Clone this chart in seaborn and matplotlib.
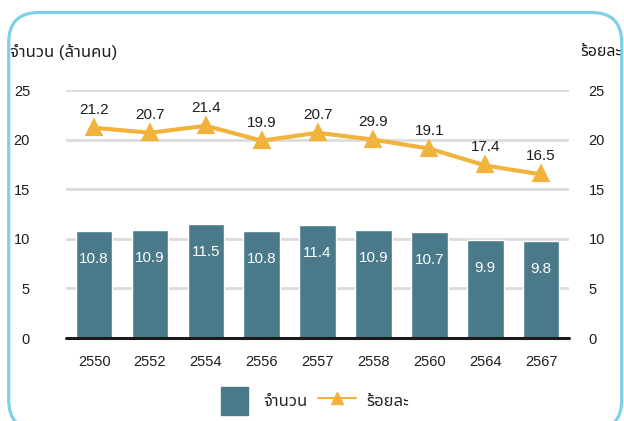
import matplotlib
matplotlib.use('Agg')
import matplotlib.pyplot as plt
import seaborn as sns
import pandas as pd
from matplotlib.patches import FancyBboxPatch, Patch, Rectangle
from matplotlib.lines import Line2D
from matplotlib.legend_handler import HandlerPatch

# data
years = ['2550', '2552', '2554', '2556', '2557', '2558', '2560', '2564', '2567']
people = [10.8, 10.9, 11.5, 10.8, 11.4, 10.9, 10.7, 9.9, 9.8]          # million
percent = [21.2, 20.7, 21.4, 19.9, 20.7, 20.0, 19.1, 17.4, 16.5]       # plotted position
percent_labels = ['21.2', '20.7', '21.4', '19.9', '20.7', '29.9', '19.1', '17.4', '16.5']

df = pd.DataFrame({'year': years, 'people': people, 'percent': percent})

sns.set_theme(style='white')
plt.rcParams['font.family'] = ['Liberation Sans', 'Noto Sans Thai', 'DejaVu Sans']

BAR = '#4a7a8a'
LINE = '#f2b33d'
GRID = '#dcdcdc'
TXT = '#1e1e1e'

fig = plt.figure(figsize=(6.24, 4.21), dpi=100)
ax = fig.add_axes([0.106, 0.197, 0.806, 0.589])

sns.barplot(data=df, x='year', y='people', color=BAR, width=0.655,
            saturation=1, ax=ax, zorder=2)
ax.set_xlim(-0.5, 8.5)
ax.set_ylim(0, 25)
ax.set_yticks([0, 5, 10, 15, 20, 25])
for y in [5, 10, 15, 20, 25]:
    ax.axhline(y, color=GRID, lw=2, zorder=1)
ax.axhline(0, color='#1a1a1a', lw=2.2, zorder=3, clip_on=False)

for i, v in enumerate(people):
    ax.annotate(f'{v}', (i, v), xytext=(0, -20), textcoords='offset points',
                ha='center', va='center', color='white', fontsize=11, zorder=4)

ax2 = ax.twinx()
ax2.set_ylim(0, 25)
ax2.set_yticks([0, 5, 10, 15, 20, 25])
sns.lineplot(data=df, x='year', y='percent', ax=ax2, color=LINE, lw=3,
             marker='^', markersize=9, markeredgecolor=LINE, markeredgewidth=3,
             zorder=5)
for l in ax2.lines:
    l.set_solid_joinstyle('round')
    l.set_markeredgecolor(LINE)
for i, (v, t) in enumerate(zip(percent, percent_labels)):
    ax2.annotate(t, (i, v), xytext=(0, 13), textcoords='offset points',
                 ha='center', va='center', color=TXT, fontsize=11)
ax2.set_xlim(-0.5, 8.5)

for a in (ax, ax2):
    for s in a.spines.values():
        s.set_visible(False)
    a.set_xlabel('')
    a.set_ylabel('')
    a.tick_params(length=0, labelsize=10.5, colors=TXT)
ax.tick_params(axis='y', pad=26)
ax.tick_params(axis='x', pad=12)
ax2.tick_params(axis='y', pad=14)

fig.text(10 / 624, 1 - 52 / 421, 'จำนวน (ล้านคน)', ha='left', va='center',
         fontsize=12, color=TXT)
fig.text(621 / 624, 1 - 52 / 421, 'ร้อยละ', ha='right', va='center',
         fontsize=11.5, color=TXT)


def square(legend, orig_handle, xdescent, ydescent, width, height, fontsize):
    s = 19.5
    return Rectangle((-xdescent + (width - s) / 2, -ydescent + (height - s) / 2), s, s)


handles = [Patch(facecolor=BAR, edgecolor=BAR),
           Line2D([], [], color=LINE, lw=1.5, marker='^', markersize=9,
                  markeredgecolor=LINE)]
fig.legend(handles, ['จำนวน', 'ร้อยละ'], loc='center', bbox_to_anchor=(0.5, 1 - 401 / 421),
           ncol=2, frameon=False, fontsize=12, handlelength=2.3, handleheight=1.6,
           columnspacing=0.6, handletextpad=0.6,
           handler_map={Patch: HandlerPatch(patch_func=square)})

frame = FancyBboxPatch((0.087, -0.09), 6.13, 4.175,
                       boxstyle='round,pad=0,rounding_size=0.3',
                       transform=fig.dpi_scale_trans, fill=False,
                       edgecolor='#7ed0e6', lw=2.3, clip_on=False)
fig.add_artist(frame)

fig.savefig('out.png', dpi=100)
